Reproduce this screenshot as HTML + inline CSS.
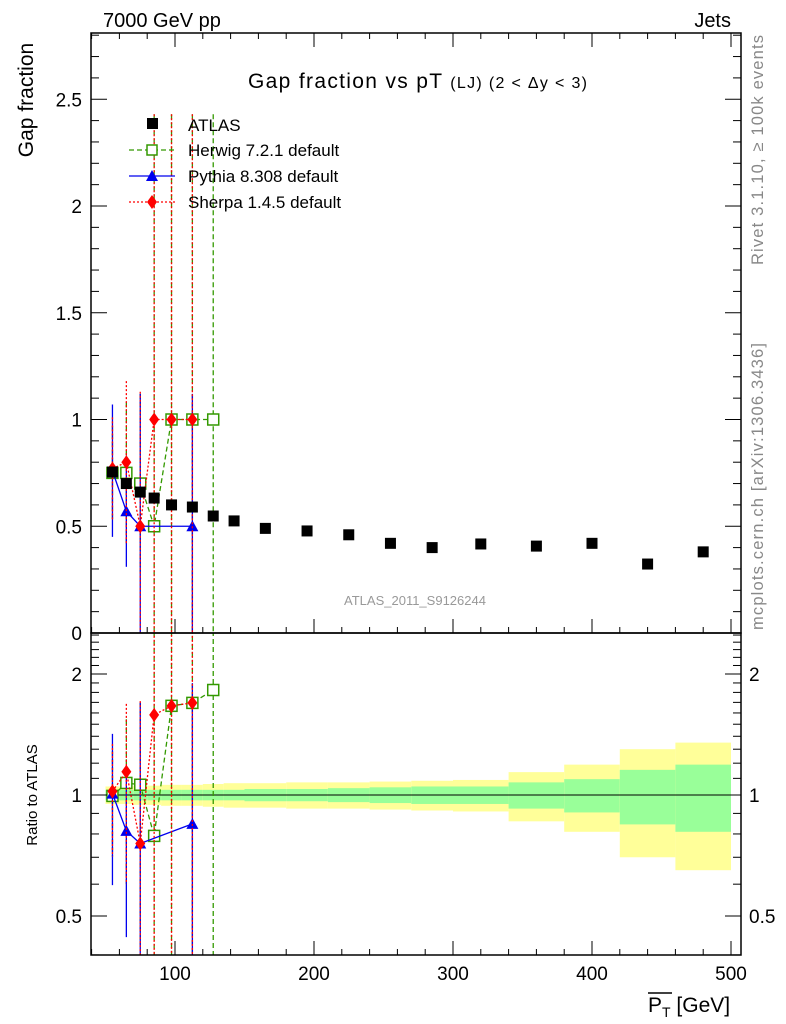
<!DOCTYPE html>
<html><head><meta charset="utf-8"><style>
html,body{margin:0;background:#fff;width:786px;height:1024px;overflow:hidden;position:relative;}
svg{display:block;}
svg text{font-family:"Liberation Sans",sans-serif;}
</style></head><body>
<svg id="c" width="786" height="1024" style="position:absolute;left:0;top:0" xmlns="http://www.w3.org/2000/svg"></svg>
<script>
const edges=[50,60,70,80,90,105,120,135,150,180,210,240,270,300,340,380,420,460,500];
const atlasX=[55,65,75,85,97.5,112.5,127.5,142.5,165,195,225,255,285,320,360,400,440,480];
const atlasY=[0.754,0.70,0.66,0.632,0.60,0.59,0.548,0.525,0.49,0.478,0.46,0.42,0.40,0.417,0.407,0.42,0.323,0.38];
const statRel=[0.03,0.03,0.03,0.03,0.03,0.03,0.03,0.03,0.035,0.035,0.04,0.045,0.05,0.05,0.075,0.095,0.155,0.19];
const totRel=[0.05,0.05,0.055,0.055,0.06,0.06,0.065,0.07,0.07,0.075,0.075,0.08,0.085,0.09,0.14,0.19,0.3,0.35];
const herX=[55,65,75,85,97.5,112.5,127.5];
const herY=[0.75,0.75,0.70,0.50,1.0,1.0,1.0];
const herE=[0.22,0.33,0.42,1.93,1.43,1.43,1.43];
const pyX=[55,65,75,112.5];
const pyY=[0.76,0.57,0.50,0.50];
const pyE=[0.31,0.26,0.62,0.62];
const shX=[55,65,75,85,97.5,112.5];
const shY=[0.77,0.80,0.50,1.0,1.0,1.0];
const shE=[0.24,0.38,0.63,1.43,1.43,1.43];

const L=91,R=741,T=33,MB=633,RB=955;
const X=v=>36+(v)*1.39;
const Y=v=>633-v*213.5;
const YR=v=>795-121*Math.log2(v);
const svg=document.getElementById('c');
const NS='http://www.w3.org/2000/svg';
function mk(tag,a,parent){const e=document.createElementNS(NS,tag);for(const k in a)e.setAttribute(k,a[k]);(parent||svg).appendChild(e);return e;}
function txt(s,a,parent){const e=mk('text',a,parent);e.textContent=s;return e;}

const defs=mk('defs',{});
const c1=mk('clipPath',{id:'cm'},defs);mk('rect',{x:L,y:T,width:R-L,height:MB-T},c1);
const c2=mk('clipPath',{id:'cr'},defs);mk('rect',{x:L,y:MB,width:R-L,height:RB-MB},c2);
const gm=mk('g',{'clip-path':'url(#cm)'});


const gr=mk('g',{'clip-path':'url(#cr)'});



for(let i=0;i<atlasX.length;i++){
  const x0=X(edges[i]),x1=X(edges[i+1]);
  const b=mk('rect',{x:x0,y:YR(1+totRel[i]),width:x1-x0,height:YR(1-totRel[i])-YR(1+totRel[i]),fill:'#ffff99'},gr);
  
  
  const g=mk('rect',{x:x0,y:YR(1+statRel[i]),width:x1-x0,height:YR(1-statRel[i])-YR(1+statRel[i]),fill:'#99ff99'},gr);
  
  
}
mk('line',{x1:L,x2:R,y1:YR(1),y2:YR(1),stroke:'#000','stroke-width':1},gr);

function series(xs,ys,es,color,dash,marker,name){
  for(const [g,yf,ratio] of [[gm,Y,false],[gr,YR,true]]){
    const val=(i)=>ratio?ys[i]/atlasY[atlasX.indexOf(xs[i])]:ys[i];
    const err=(i)=>ratio?es[i]/atlasY[atlasX.indexOf(xs[i])]:es[i];
    for(let i=0;i<xs.length;i++){
      const lo=Math.max(val(i)-err(i),ratio?0.01:-1);
      const l=mk('line',{x1:X(xs[i]),x2:X(xs[i]),y1:yf(val(i)+err(i)),y2:yf(lo),stroke:color,'stroke-width':1.3,'stroke-dasharray':dash},g);
      
      
    }
    const pts=xs.map((x,i)=>X(x)+','+yf(val(i))).join(' ');
    const pl=mk('polyline',{points:pts,fill:'none',stroke:color,'stroke-width':1.3,'stroke-dasharray':dash},g);
    
    
    for(let i=0;i<xs.length;i++){
      const m=marker(X(xs[i]),yf(val(i)),g);
      
      
    }
  }
}
const sq=(x,y,g)=>mk('rect',{x:x-5.5,y:y-5.5,width:11,height:11,fill:'#fff',stroke:'#339900','stroke-width':1.5},g);
const tri=(x,y,g)=>mk('polygon',{points:`${x-6},${y+5} ${x+6},${y+5} ${x},${y-6}`,fill:'#0000ee'},g);
const dia=(x,y,g)=>mk('polygon',{points:`${x},${y-7} ${x+5},${y} ${x},${y+7} ${x-5},${y}`,fill:'#ff0000'},g);
series(herX,herY,herE,'#339900','5,3',sq,'herwig');
series(pyX,pyY,pyE,'#0000ee','',tri,'pythia');
series(shX,shY,shE,'#ff0000','2,2',dia,'sherpa');
for(let i=0;i<atlasX.length;i++){
  const p=mk('rect',{x:X(atlasX[i])-5.5,y:Y(atlasY[i])-5.5,width:11,height:11,fill:'#000'},gm);
  
  
}

mk('rect',{x:L,y:T,width:R-L,height:MB-T,fill:'none',stroke:'#000','stroke-width':1.5});
mk('rect',{x:L,y:MB,width:R-L,height:RB-MB,fill:'none',stroke:'#000','stroke-width':1.5});

for(let k=0;k<=28;k++){
  const v=k/10,y=Y(v),maj=k%5==0,len=maj?16:8;
  mk('line',{x1:L,x2:L+len,y1:y,y2:y,stroke:'#000'});
  mk('line',{x1:R,x2:R-len,y1:y,y2:y,stroke:'#000'});
  if(maj){const t=txt(k==0?'0':String(v),{x:82,y:y+7,'text-anchor':'end','font-size':19});
    }
}
for(let v=40;v<=500;v+=20){
  const x=X(v),maj=v%100==0,len=maj?14:6;
  for(const b of [MB,RB]){mk('line',{x1:x,x2:x,y1:b,y2:b-len,stroke:'#000'});}
  mk('line',{x1:x,x2:x,y1:T,y2:T+len,stroke:'#000'});
  if(maj){const t=txt(String(v),{x:x,y:980,'text-anchor':'middle','font-size':19});
    }
}
const rt=[0.4,0.5,0.6,0.7,0.8,0.9,1,1.1,1.2,1.3,1.4,1.5,1.6,1.7,1.8,1.9,2,2.1,2.2,2.3,2.4,2.5];
for(const v of rt){
  const y=YR(v);if(y<MB||y>RB)continue;
  const maj=(v==0.5||v==1||v==2),len=maj?16:8;
  mk('line',{x1:L,x2:L+len,y1:y,y2:y,stroke:'#000'});
  mk('line',{x1:R,x2:R-len,y1:y,y2:y,stroke:'#000'});
  if(maj){
    const a=txt(String(v),{x:82,y:y+7,'text-anchor':'end','font-size':19});
    
    const b=txt(String(v),{x:749,y:y+7,'text-anchor':'start','font-size':19});
    
  }
}
</script>
<svg width="786" height="1024" style="position:absolute;left:0;top:0" xmlns="http://www.w3.org/2000/svg">
<text x="103" y="27" font-size="20" font-family="Liberation Sans">7000 GeV pp</text>
<text x="731" y="27" font-size="20" text-anchor="end" font-family="Liberation Sans">Jets</text>
<text x="248" y="88" font-size="21" textLength="339" font-family="Liberation Sans">Gap fraction vs pT <tspan font-size="16">(LJ)  (2 &lt; Δy &lt; 3)</tspan></text>
<text transform="translate(33,100) rotate(-90)" font-size="21" text-anchor="middle" font-family="Liberation Sans">Gap fraction</text>
<text transform="translate(37,795) rotate(-90)" font-size="15" text-anchor="middle" font-family="Liberation Sans">Ratio to ATLAS</text>
<text transform="translate(763,265) rotate(-90)" font-size="16.5" textLength="230" fill="#888" font-family="Liberation Sans">Rivet 3.1.10, ≥ 100k events</text>
<text transform="translate(763,630) rotate(-90)" font-size="16.5" textLength="287" fill="#888" font-family="Liberation Sans">mcplots.cern.ch [arXiv:1306.3436]</text>
<text x="415" y="605" font-size="13" fill="#999" text-anchor="middle" font-family="Liberation Sans">ATLAS_2011_S9126244</text>
<g>
<line x1="648" y1="993" x2="672" y2="993" stroke="#000" stroke-width="1.5"/>
<text x="648" y="1012" font-size="21" font-family="Liberation Sans">P<tspan font-size="14" dy="5">T</tspan><tspan dy="-5"> [GeV]</tspan></text>
</g>
<g>
<rect x="147" y="118" width="11" height="11" fill="#000"/>
<text x="188" y="131" font-size="17" font-family="Liberation Sans">ATLAS</text>
<line x1="129" x2="175" y1="150" y2="150" stroke="#339900" stroke-dasharray="5,3" stroke-width="1.3"/>
<rect x="147" y="145" width="10" height="10" fill="#fff" stroke="#339900" stroke-width="1.5"/>
<text x="188" y="156" font-size="17" font-family="Liberation Sans">Herwig 7.2.1 default</text>
<line x1="129" x2="175" y1="176" y2="176" stroke="#0000ee" stroke-width="1.3"/>
<polygon points="146,181 158,181 152,170" fill="#0000ee"/>
<text x="188" y="182" font-size="17" font-family="Liberation Sans">Pythia 8.308 default</text>
<line x1="129" x2="175" y1="202" y2="202" stroke="#ff0000" stroke-dasharray="2,2" stroke-width="1.3"/>
<polygon points="152,195 157,202 152,209 147,202" fill="#ff0000"/>
<text x="188" y="208" font-size="17" font-family="Liberation Sans">Sherpa 1.4.5 default</text>
</g>
</svg>
</body></html>
